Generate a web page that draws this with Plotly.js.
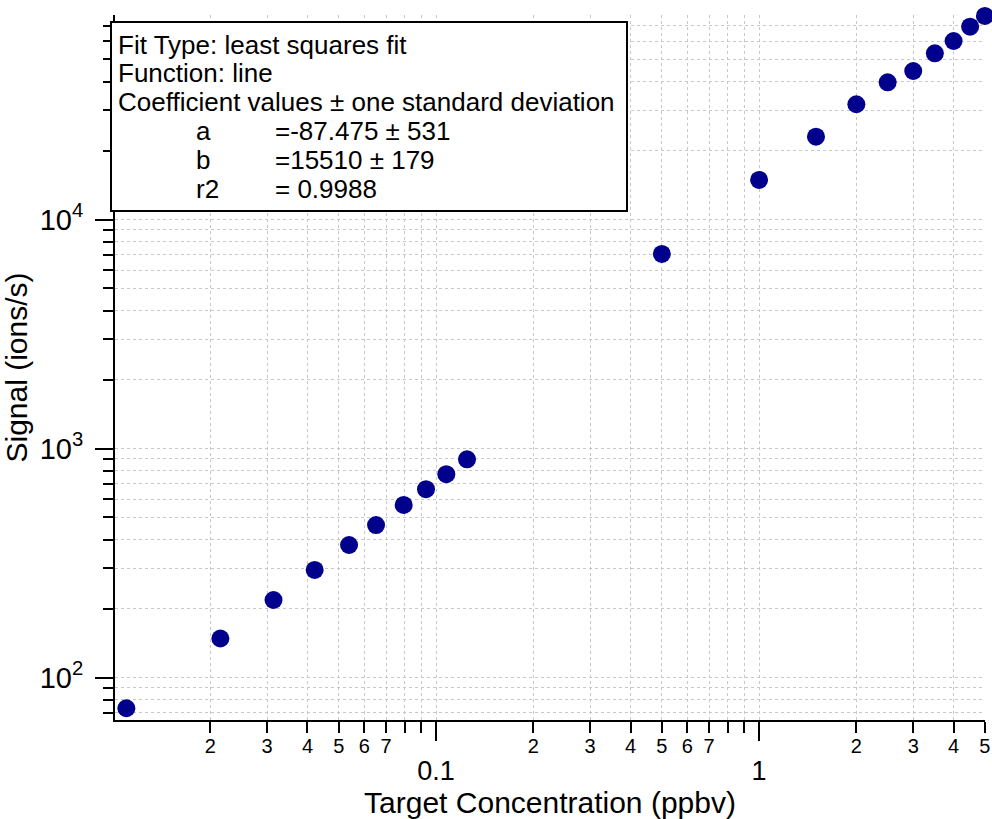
<!DOCTYPE html>
<html>
<head>
<meta charset="utf-8">
<script src="https://cdn.plot.ly/plotly-3.0.1.min.js"></script>
<style>html,body{margin:0;padding:0;background:#fff;}#chart{width:992px;height:819px;}</style>
</head>
<body>
<div id="chart"></div>
<script>
// ---- data ----
const concentration = [0.0110, 0.0215, 0.0314, 0.0421, 0.0538, 0.0652, 0.0794, 0.0931, 0.1076, 0.1247,
                       0.5, 1.0, 1.5, 2.0, 2.5, 3.0, 3.5, 4.0, 4.5, 5.0];
const signal = [73.4, 148, 218, 295, 379, 463, 567, 664, 772, 897,
                7070, 14880, 22990, 31860, 39720, 44510, 53190, 60190, 69500, 77400];

const xMajorVals = [0.1, 1];
const xMajorText = ["0.1", "1"];
const xMinorVals = [0.02,0.03,0.04,0.05,0.06,0.07,0.08,0.09,0.2,0.3,0.4,0.5,0.6,0.7,0.8,0.9,2,3,4,5];
const xMinorLabelVals = [0.02,0.03,0.04,0.05,0.06,0.07,0.2,0.3,0.4,0.5,0.6,0.7,2,3,4,5];
const xMinorLabelText = ["2","3","4","5","6","7","2","3","4","5","6","7","2","3","4","5"];
const yMajorVals = [100, 1000, 10000];
const yMajorText = ["10<sup>2</sup>", "10<sup>3</sup>", "10<sup>4</sup>"];
const yMinorVals = [70,80,90,200,300,400,500,600,700,800,900,2000,3000,4000,5000,6000,7000,8000,9000,20000,30000,40000,50000,60000,70000];

const fitLines = ["Fit Type: least squares fit", "Function: line", "Coefficient values ± one standard deviation"];
const coefNames = ["a", "b", "r2"];
const coefValues = ["=-87.475 ± 531", "=15510 ± 179", "= 0.9988"];

// ---- layout geometry ----
const W = 992, H = 819;
const mL = 115, mR = 7, mT = 15, mB = 99;
const pw = W - mL - mR, ph = H - mT - mB;
const px = v => (v - mL) / pw;
const py = v => (H - mB - v) / ph;

const xRange = [-1.9938, 0.6993];
const yRange = [1.8144, 4.8930];
const FONT = "Arial, 'Liberation Sans', sans-serif";
const gridCol = "#c8c8c8";

const trace = {
  x: concentration, y: signal, type: "scatter", mode: "markers",
  marker: {size: 18, color: "#00008c", line: {width: 0}},
  cliponaxis: false, showlegend: false, hoverinfo: "x+y"
};
// invisible helper trace for the minor-digit axis
const helper = {x: [concentration[0]], y: [signal[0]], xaxis: "x2", yaxis: "y", mode: "markers",
  marker: {opacity: 0}, showlegend: false, hoverinfo: "skip"};

const annotations = [];
const lineY = [45, 73, 102];
fitLines.forEach((t, i) => annotations.push({
  xref: "paper", yref: "paper", x: px(116), y: py(lineY[i]), xanchor: "left", yanchor: "middle",
  text: t, showarrow: false, font: {family: FONT, size: 26, color: "#000"}
}));
const coefY = [131, 160, 189];
coefNames.forEach((t, i) => {
  annotations.push({xref: "paper", yref: "paper", x: px(194), y: py(coefY[i]), xanchor: "left", yanchor: "middle",
    text: t, showarrow: false, font: {family: FONT, size: 26, color: "#000"}});
  annotations.push({xref: "paper", yref: "paper", x: px(273), y: py(coefY[i]), xanchor: "left", yanchor: "middle",
    text: coefValues[i], showarrow: false, font: {family: FONT, size: 26, color: "#000"}});
});

const layout = {
  width: W, height: H,
  margin: {l: mL, r: mR, t: mT, b: mB, pad: 0},
  paper_bgcolor: "#fff", plot_bgcolor: "#fff",
  font: {family: FONT, color: "#000"},
  xaxis: {
    type: "log", range: xRange, autorange: false,
    tickmode: "array", tickvals: xMajorVals, ticktext: xMajorText,
    ticks: "outside", ticklen: 19, tickwidth: 2, tickcolor: "#000",
    ticklabelstandoff: 7,
    tickfont: {family: FONT, size: 27, color: "#000"},
    showline: true, linecolor: "#000", linewidth: 2, mirror: false, zeroline: false,
    showgrid: true, gridcolor: gridCol, griddash: "dot", gridwidth: 1,
    minor: {tickmode: "array", tickvals: xMinorVals, ticks: "outside", ticklen: 11, tickwidth: 2, tickcolor: "#000",
            showgrid: true, gridcolor: gridCol, griddash: "dot", gridwidth: 1},
    title: {text: "Target Concentration (ppbv)", font: {family: FONT, size: 30, color: "#000"}, standoff: 5}
  },
  xaxis2: {
    type: "log", range: xRange, autorange: false, overlaying: "x", anchor: "y", side: "bottom",
    tickmode: "array", tickvals: xMinorLabelVals, ticktext: xMinorLabelText,
    ticks: "", showline: false, showgrid: false, zeroline: false, ticklabelstandoff: 12,
    tickfont: {family: FONT, size: 20, color: "#000"}
  },
  yaxis: {
    type: "log", range: yRange, autorange: false,
    tickmode: "array", tickvals: yMajorVals, ticktext: yMajorText,
    ticks: "outside", ticklen: 18, tickwidth: 2, tickcolor: "#000",
    ticklabelstandoff: 6,
    tickfont: {family: FONT, size: 29, color: "#000"},
    showline: true, linecolor: "#000", linewidth: 2, mirror: false, zeroline: false,
    showgrid: true, gridcolor: gridCol, griddash: "dot", gridwidth: 1,
    minor: {tickmode: "array", tickvals: yMinorVals, ticks: "outside", ticklen: 10, tickwidth: 2, tickcolor: "#000",
            showgrid: true, gridcolor: gridCol, griddash: "dot", gridwidth: 1},
    title: {text: "Signal (ions/s)", font: {family: FONT, size: 30, color: "#000"}, standoff: 4}
  },
  shapes: [{
    type: "rect", xref: "paper", yref: "paper", layer: "above",
    x0: px(111), x1: px(627), y0: py(211), y1: py(22),
    fillcolor: "#fff", line: {color: "#000", width: 2}
  }],
  annotations: annotations
};

Plotly.newPlot("chart", [trace, helper], layout, {displayModeBar: false, staticPlot: true});
</script>
</body>
</html>
